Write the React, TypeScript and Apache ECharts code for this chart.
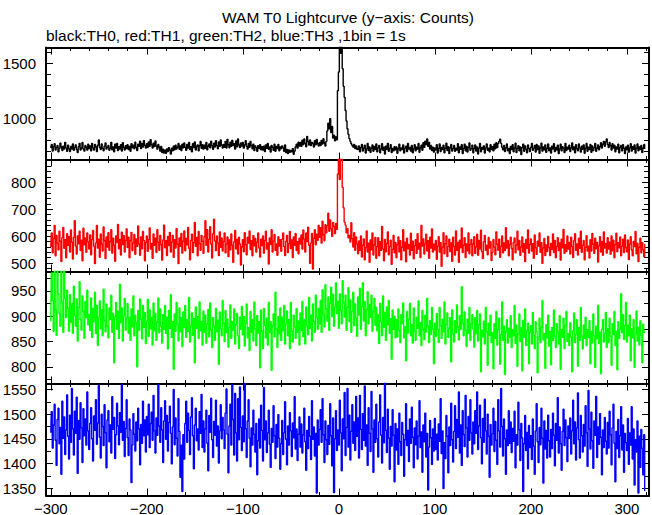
import React, { useEffect, useRef } from "react";
import * as echarts from "echarts";

// time of the first 1-s bin, and bin width (s)
const T_START = -300;
const BIN = 1;

const TITLE = "WAM T0 Lightcurve (y\u2212axis: Counts)";
const SUBTITLE = "black:TH0, red:TH1, green:TH2, blue:TH3 ,1bin = 1s";

// TH0 counts per 1 s bin (black)
const th0 = [
  728,761,702,740,769,711,733,752,694,725, 774,738,706,745,719,781,731,699,756,722,
  697,744,721,767,708,735,758,716,689,741, 772,712,729,779,720,701,753,736,710,764,
  724,748,703,770,731,712,762,739,698,756, 803,737,715,766,726,705,747,775,719,736,
  752,709,728,781,714,740,695,763,730,771, 706,742,721,759,702,778,734,711,750,725,
  760,716,743,700,769,731,755,722,782,737, 707,764,745,791,724,770,738,797,753,729,
  768,733,785,746,806,758,730,774,742,793, 747,719,762,738,701,744,689,718,683,710,
  681,722,697,733,709,675,727,704,745,713, 756,720,736,771,718,748,707,764,731,775,
  736,709,762,728,779,715,741,696,769,734, 784,712,745,758,704,751,789,727,760,719,
  755,727,780,714,746,766,731,792,750,718, 773,739,797,752,722,785,744,803,757,730,
  761,737,790,729,808,759,731,783,746,799, 752,768,721,794,740,812,757,733,776,748,
  780,728,758,795,744,719,771,736,790,752, 722,765,706,748,733,699,751,724,760,713,
  742,711,745,697,758,726,770,718,739,693, 752,735,709,763,700,744,725,761,705,738,
  722,749,731,700,757,689,716,678,712,690, 707,695,724,672,701,740,763,728,782,748,
  779,744,801,760,812,773,740,835,788,757, 803,752,781,770,739,797,758,808,768,747,
  781,752,799,766,814,775,748,790,885,955, 905,995,870,925,820,845,795,830,805,1250,
  1420,1700,1590,1660,1450,1290,1190,1070,975,905, 855,815,790,768,752,738,762,724,749,718,
  712,748,695,733,761,702,727,754,683,722, 770,706,739,690,725,757,699,743,716,766,
  694,731,752,687,720,768,709,736,675,745, 718,772,700,728,759,689,726,705,741,714,
  738,681,723,763,703,731,716,758,684,728, 746,697,771,719,734,701,752,686,722,760,
  703,736,719,771,690,729,755,708,778,735, 791,760,812,744,781,721,753,706,737,692,
  731,712,759,683,725,767,698,734,716,754, 687,727,773,707,741,680,730,762,702,724,
  752,699,728,711,768,686,738,717,760,679, 726,765,704,745,693,733,776,708,724,756,
  687,725,757,702,739,675,728,771,696,735, 718,749,684,731,766,709,727,694,759,716,
  741,703,764,722,778,734,769,790,809,772, 737,714,752,698,730,767,705,726,680,744,
  715,760,695,729,773,688,726,751,704,738, 671,732,765,700,748,719,686,757,725,698,
  735,770,709,727,752,693,761,716,749,682, 730,774,701,738,714,758,690,727,766,705,
  731,684,747,721,769,697,735,711,756,679, 722,764,703,741,727,689,772,706,737,719,
  754,698,730,775,713,738,686,760,725,704, 767,731,692,746,718,758,681,728,770,700,
  736,715,762,690,748,706,731,771,699,727, 757,714,741,778,729,764,790,746,785,812,
  760,733,779,750,712,768,729,755,696,740, 721,763,687,734,752,703,759,726,680,738,
  714,755,692,731,769,701,742,718,757,683, 728,766,705,739,716,752,689,727,761,720,
];

// TH1 counts (red)
const th1 = [
  560,612,538,591,640,527,603,574,549,618, 581,506,594,632,555,587,520,609,566,598,
  541,623,578,515,596,657,563,534,601,572, 618,547,585,509,629,568,593,540,612,579,
  552,604,531,587,621,563,498,575,640,556, 589,522,608,571,545,634,583,517,597,560,
  613,548,579,624,537,592,566,507,601,576, 643,553,588,530,615,569,602,541,584,627,
  558,596,520,583,614,547,575,606,533,590, 562,638,571,529,597,553,617,584,509,576,
  601,544,587,630,552,573,518,608,566,592, 539,624,578,548,603,569,511,586,641,557,
  583,528,599,565,614,541,578,603,522,587, 556,628,571,498,593,562,610,537,582,619,
  546,591,568,632,555,512,584,607,539,576, 651,562,595,527,617,572,548,603,581,536,
  598,657,566,624,541,588,635,571,519,609, 663,582,547,601,574,528,616,559,593,545,
  580,612,538,571,597,524,586,549,608,566, 503,579,621,552,588,534,596,571,493,560,
  587,542,613,568,531,596,574,619,550,583, 527,602,564,591,541,578,612,556,523,589,
  565,601,537,584,618,552,575,497,593,569, 624,541,582,606,548,571,529,598,563,587,
  544,589,612,561,528,580,603,539,572,617, 554,586,521,597,566,610,547,579,535,592,
  571,604,552,623,589,541,612,580,633,566, 499,575,610,478,592,624,568,607,585,640,
  596,631,574,655,605,583,642,612,639,685, 618,660,627,599,651,636,610,647,625,830,
  930,810,960,920,780,705,652,641,612,628, 594,603,578,650,591,560,613,548,597,571,
  535,582,548,601,523,566,590,512,557,619, 541,574,503,586,549,612,530,567,595,518,
  561,594,527,579,548,636,553,509,588,542, 573,616,531,562,585,496,551,603,538,577,
  520,568,597,541,583,512,559,624,546,578, 505,592,553,569,530,611,548,581,516,565,
  587,536,609,552,574,521,640,563,590,534, 571,607,545,583,518,596,556,627,541,570,
  549,584,514,563,598,541,576,488,559,613, 535,572,601,524,561,589,543,575,507,596,
  562,530,619,548,577,503,585,557,630,539, 566,594,521,571,546,612,535,569,588,527,
  571,598,536,560,607,529,584,552,622,543, 517,579,603,548,566,531,595,556,579,510,
  540,588,559,531,616,570,548,589,522,563, 601,538,575,547,631,556,584,527,569,596,
  554,512,577,593,538,566,618,549,584,529, 560,597,541,572,506,588,555,623,537,569,
  590,545,572,518,604,557,533,581,563,612, 540,576,499,556,591,528,567,543,599,558,
  528,573,551,608,539,584,520,562,594,547, 575,511,589,557,625,536,568,543,601,552,
  577,534,596,562,521,583,609,548,571,530, 592,555,618,540,566,584,512,559,602,545,
  563,519,587,545,610,570,536,592,553,577, 504,564,598,541,580,529,616,556,573,537,
  594,552,578,533,601,546,585,520,568,611, 542,576,557,597,527,563,589,539,604,558,
  542,586,513,571,598,549,527,580,561,617, 535,574,506,559,592,538,576,550,524,571,
];

// TH2 counts (green)
const th2 = [
  890,985,930,870,1000,912,862,995,944,905, 880,990,928,868,1002,935,897,951,915,870,
  942,888,925,866,959,901,880,934,851,917, 968,893,872,940,909,856,929,897,951,883,
  903,872,936,858,915,889,947,866,921,842, 898,930,875,912,861,953,891,869,924,880,
  857,916,893,941,868,905,808,898,927,874, 909,856,963,887,916,851,900,935,872,896,
  925,866,898,852,914,879,940,861,902,887, 800,911,872,934,893,855,921,878,907,846,
  890,933,860,912,875,898,843,926,871,905, 852,888,936,867,914,880,847,903,874,921,
  866,898,835,911,876,942,858,889,795,904, 870,927,884,851,916,869,897,840,908,877,
  921,858,893,870,937,849,881,906,862,895, 808,918,876,899,856,928,871,889,843,910,
  868,902,847,884,913,859,926,873,838,897, 880,852,915,869,892,805,908,875,861,931,
  886,850,911,867,894,839,878,922,856,889, 872,914,845,883,905,861,836,898,874,919,
  863,899,841,886,924,857,877,832,909,868, 893,851,928,875,842,901,866,889,798,912,
  870,836,915,882,857,896,843,927,868,889, 793,881,904,859,947,874,838,899,865,916,
  852,898,871,921,845,884,910,861,893,836, 927,870,849,902,879,856,915,868,890,843,
  906,872,929,859,893,845,918,881,863,937, 876,902,851,924,889,868,941,897,874,915,
  885,931,868,952,903,879,962,914,890,938, 872,925,957,899,943,880,918,966,905,929,
  876,944,911,885,970,926,898,941,872,917, 956,889,932,868,909,947,881,924,896,860,
  938,902,955,874,919,966,890,929,861,913, 948,885,923,897,941,870,909,935,882,917,
  871,903,846,925,889,861,940,878,907,852, 918,883,931,866,895,815,912,874,900,857,
  893,859,914,872,848,903,885,926,857,879, 812,909,866,894,925,861,883,847,916,870,
  852,898,876,930,861,887,842,911,873,853, 902,869,935,880,848,891,864,917,874,806,
  886,860,905,873,848,917,881,856,894,869, 928,845,884,906,858,876,897,810,912,865,
  849,891,867,922,879,853,901,874,958,886, 861,908,872,840,894,866,917,852,885,903,
  874,839,897,865,911,851,883,904,790,872, 859,890,845,917,869,803,886,862,902,848,
  867,796,885,856,909,843,873,896,805,864, 928,852,880,785,869,893,847,876,858,901,
  838,873,861,921,846,882,801,865,904,850, 877,792,892,858,914,842,871,886,806,868,
  881,845,907,862,836,889,870,788,859,896, 848,878,931,853,866,797,883,857,902,841,
  869,804,877,852,912,860,838,885,869,845, 901,795,873,858,896,836,881,909,850,866,
  842,887,859,790,871,906,848,864,893,801, 877,852,917,861,835,882,856,898,842,873,
  858,891,806,869,847,904,862,799,880,855, 921,846,868,786,874,893,849,866,907,838,
  875,848,896,860,803,885,864,909,842,870, 794,889,856,874,944,867,903,854,881,927,
  849,882,861,902,812,875,857,893,799,866, 910,851,878,843,891,862,808,884,868,870,
];

// TH3 counts (blue)
const th3 = [
  1462,1505,1431,1478,1520,1447,1396,1489,1512,1440, 1473,1378,1526,1451,1494,1418,1468,1539,1455,1409,
  1498,1443,1552,1470,1417,1506,1461,1534,1380,1487, 1449,1523,1472,1402,1511,1456,1490,1437,1545,1466,
  1428,1481,1513,1450,1405,1496,1467,1529,1439,1482, 1558,1453,1411,1500,1475,1436,1519,1462,1391,1488,
  1507,1444,1478,1421,1535,1469,1493,1410,1458,1522, 1476,1438,1503,1463,1560,1447,1485,1414,1471,1529,
  1452,1416,1490,1468,1361,1437,1501,1459,1425,1484, 1446,1512,1470,1397,1479,1441,1526,1456,1488,1423,
  1495,1458,1520,1432,1481,1504,1447,1538,1466,1421, 1492,1457,1560,1476,1443,1513,1468,1402,1486,1527,
  1449,1497,1425,1483,1516,1461,1399,1474,1550,1438, 1492,1451,1415,1531,1465,1372,1437,1343,1458,1409,
  1481,1526,1443,1502,1467,1418,1494,1533,1456,1389, 1478,1512,1446,1470,1427,1505,1461,1540,1432,1486,
  1423,1470,1508,1441,1385,1497,1463,1532,1448,1412, 1485,1457,1528,1435,1476,1401,1466,1519,1450,1493,
  1468,1430,1502,1551,1459,1381,1476,1520,1437,1560, 1489,1417,1542,1462,1405,1531,1448,1555,1473,1426,
  1496,1444,1563,1470,1412,1486,1529,1451,1393,1472, 1437,1508,1459,1423,1481,1377,1446,1490,1431,1518,
  1467,1405,1554,1448,1486,1422,1462,1508,1439,1392, 1471,1443,1517,1456,1410,1479,1433,1499,1451,1388,
  1440,1487,1418,1462,1525,1449,1397,1476,1437,1503, 1466,1414,1482,1452,1535,1429,1470,1406,1459,1494,
  1433,1480,1421,1458,1512,1444,1386,1467,1430,1495, 1455,1408,1527,1449,1474,1415,1461,1340,1488,1437,
  1469,1509,1443,1531,1458,1402,1486,1448,1418,1477, 1439,1521,1456,1395,1492,1341,1450,1507,1426,1468,
  1437,1528,1462,1385,1490,1450,1544,1416,1473,1552, 1433,1498,1407,1465,1519,1441,1484,1426,1536,1455,
  1492,1411,1538,1469,1428,1501,1447,1557,1435,1478, 1396,1513,1461,1424,1546,1470,1382,1488,1443,1520,
  1450,1413,1484,1539,1457,1401,1493,1442,1566,1467, 1422,1510,1451,1388,1475,1435,1509,1457,1363,1481,
  1427,1470,1398,1502,1444,1416,1483,1459,1374,1448, 1521,1436,1467,1404,1490,1441,1514,1453,1391,1472,
  1438,1486,1409,1455,1527,1432,1464,1382,1478,1444, 1502,1413,1461,1346,1433,1487,1452,1398,1470,1425,
  1491,1428,1459,1407,1480,1445,1531,1420,1466,1349, 1442,1410,1497,1455,1381,1474,1436,1522,1448,1403,
  1465,1517,1430,1489,1453,1545,1421,1478,1396,1507, 1458,1434,1538,1472,1413,1495,1447,1529,1462,1419,
  1484,1440,1507,1461,1545,1428,1476,1518,1452,1399, 1491,1443,1530,1466,1419,1500,1455,1372,1479,1437,
  1460,1512,1424,1485,1447,1398,1529,1466,1433,1552, 1475,1415,1490,1450,1378,1468,1436,1507,1441,1484,
  1422,1471,1445,1506,1391,1458,1437,1524,1468,1406, 1481,1452,1343,1440,1497,1426,1463,1389,1477,1432,
  1456,1408,1490,1435,1378,1466,1521,1444,1402,1473, 1438,1512,1451,1360,1486,1429,1467,1411,1498,1446,
  1413,1469,1430,1502,1457,1395,1481,1447,1533,1421, 1474,1440,1386,1465,1510,1436,1488,1452,1404,1476,
  1451,1492,1419,1466,1528,1440,1484,1407,1472,1543, 1448,1411,1497,1456,1423,1479,1435,1517,1462,1394,
  1548,1470,1429,1504,1446,1390,1486,1457,1536,1412, 1474,1439,1501,1453,1377,1468,1432,1493,1445,1419,
  1483,1431,1506,1458,1397,1472,1520,1441,1363,1465, 1430,1489,1412,1456,1515,1427,1478,1382,1461,1442,
  1426,1491,1398,1462,1437,1515,1409,1470,1356,1448, 1423,1486,1340,1455,1392,1469,1431,1377,1458,1344,
];

// x axis ticks
const xMajorTicks = [-300, -200, -100, 0, 100, 200, 300];
const xMinorTicks = [-280, -260, -240, -220, -180, -160, -140, -120, -80, -60, -40, -20,
  20, 40, 60, 80, 120, 140, 160, 180, 220, 240, 260, 280, 320];

// y ranges and ticks for each panel
const yRanges = [[625, 1643], [469, 884], [767, 988], [1335, 1562]];
const yMajorTicks = [
  [1000, 1500],
  [500, 600, 700, 800],
  [800, 850, 900, 950],
  [1350, 1400, 1450, 1500, 1550],
];
const yMinorTicks = [
  [700, 800, 900, 1100, 1200, 1300, 1400, 1600],
  [480, 520, 540, 560, 580, 620, 640, 660, 680, 720, 740, 760, 780, 820, 840, 860, 880],
  [775, 825, 875, 925, 975],
  [1375, 1425, 1475, 1525],
];
const colors = ["#000000", "#ff0000", "#00ff00", "#0000ff"];
const series = [th0, th1, th2, th3];

const X_MIN = -305;
const X_MAX = 323;
const FONT = "'Liberation Sans', Arial, Helvetica, sans-serif";

export default function App() {
  const ref = useRef<HTMLDivElement>(null);

  useEffect(() => {
    if (!ref.current) return;
    const chart = echarts.init(ref.current, undefined, { renderer: "svg" });

    const GRID_LEFT = 46;
    const GRID_W = 603;
    const GRID_TOP0 = 47.5;
    const GRID_H = 112;

    const fmtX = (v: number) => (v < 0 ? "\u2212" + String(-v) : String(v));
    const fmtY = (v: number) => String(v);

    const grids: any[] = [];
    const xAxes: any[] = [];
    const yAxes: any[] = [];
    const seriesOpts: any[] = [];

    for (let i = 0; i < 4; i++) {
      grids.push({
        left: GRID_LEFT,
        width: GRID_W,
        top: GRID_TOP0 + i * GRID_H,
        height: GRID_H,
        containLabel: false,
        outerBoundsMode: "none",
      });
      const mkX = (pos: string, major: boolean, label: boolean) => ({
        type: "value",
        gridIndex: i,
        position: pos,
        min: X_MIN,
        max: X_MAX,
        axisLine: { show: major, onZero: false, lineStyle: { color: "#000", width: 2 } },
        axisTick: {
          show: true,
          inside: true,
          length: major ? 7 : 3.5,
          customValues: major ? xMajorTicks : xMinorTicks,
          lineStyle: { color: "#000", width: 1 },
        },
        axisLabel: {
          show: label,
          customValues: xMajorTicks,
          formatter: fmtX,
          color: "#000",
          fontSize: 15,
          fontFamily: FONT,
          margin: 5,
        },
        splitLine: { show: false },
      });
      xAxes.push(mkX("bottom", true, i === 3));
      xAxes.push(mkX("bottom", false, false));
      xAxes.push(mkX("top", true, false));
      xAxes.push(mkX("top", false, false));

      const mkY = (pos: string, major: boolean, label: boolean) => ({
        type: "value",
        gridIndex: i,
        position: pos,
        min: yRanges[i][0],
        max: yRanges[i][1],
        axisLine: { show: major, onZero: false, lineStyle: { color: "#000", width: 2 } },
        axisTick: {
          show: true,
          inside: true,
          length: major ? 7 : 5,
          customValues: major ? yMajorTicks[i] : yMinorTicks[i],
          lineStyle: { color: "#000", width: 1 },
        },
        axisLabel: {
          show: label,
          customValues: yMajorTicks[i],
          formatter: fmtY,
          color: "#000",
          fontSize: 15,
          fontFamily: FONT,
          margin: 10,
        },
        splitLine: { show: false },
      });
      yAxes.push(mkY("left", true, true));
      yAxes.push(mkY("left", false, false));
      yAxes.push(mkY("right", true, false));
      yAxes.push(mkY("right", false, false));

      seriesOpts.push({
        type: "line",
        xAxisIndex: i * 4,
        yAxisIndex: i * 4,
        data: series[i].map((v, k) => [T_START + k * BIN, v]),
        step: "middle",
        symbol: "none",
        showSymbol: false,
        clip: true,
        silent: true,
        lineStyle: { color: colors[i], width: 1.4 },
        itemStyle: { color: colors[i] },
      });
    }

    chart.setOption({
      animation: false,
      backgroundColor: "#ffffff",
      grid: grids,
      xAxis: xAxes,
      yAxis: yAxes,
      series: seriesOpts,
      graphic: [
        {
          type: "text",
          x: 348,
          y: 17,
          style: {
            text: TITLE,
            fill: "#000",
            font: `15.5px ${FONT}`,
            align: "center",
            verticalAlign: "middle",
          },
        },
        {
          type: "text",
          x: 46,
          y: 35,
          style: {
            text: SUBTITLE,
            fill: "#000",
            font: `15.5px ${FONT}`,
            align: "left",
            verticalAlign: "middle",
          },
        },
      ],
    });

    return () => chart.dispose();
  }, []);

  return (
    <div
      ref={ref}
      style={{ position: "fixed", left: 0, top: 0, width: 652, height: 515, background: "#fff" }}
    />
  );
}
